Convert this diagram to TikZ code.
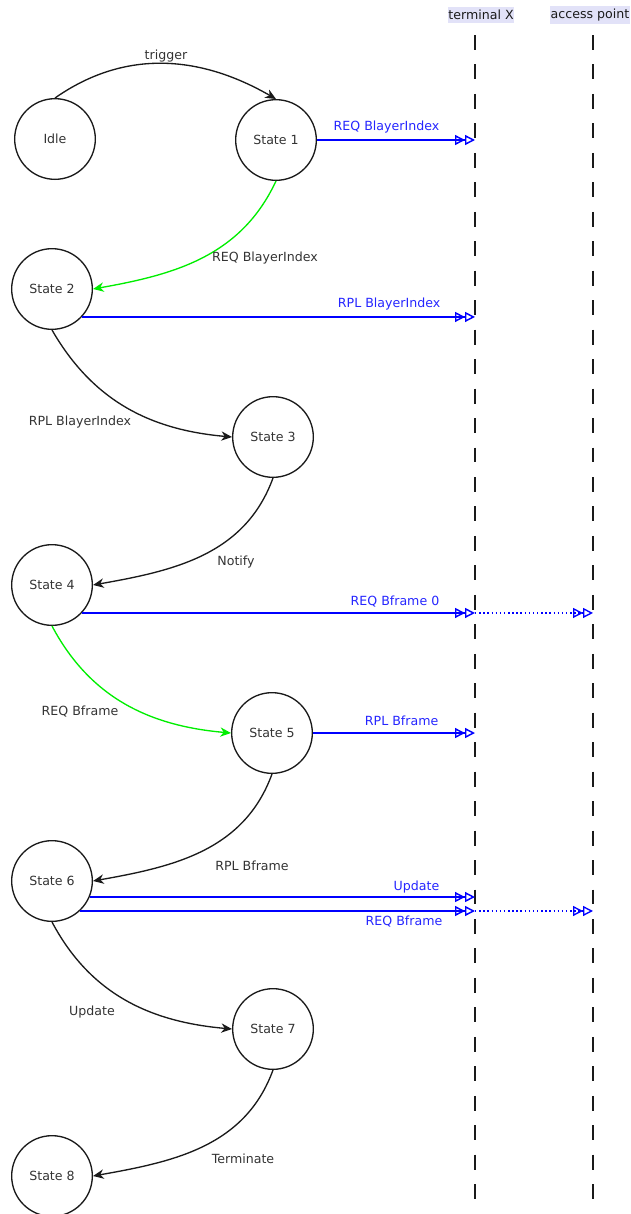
\documentclass[tikz,border=0pt]{standalone}
\usepackage{fontspec}
\setmainfont{DejaVu Sans}
\usetikzlibrary{arrows.meta}
\definecolor{ink}{HTML}{1A1A1A}
\definecolor{labgray}{HTML}{333333}
\definecolor{msgblue}{HTML}{0000FF}
\definecolor{msgtext}{HTML}{2525FF}
\definecolor{trgreen}{HTML}{00EE00}
\definecolor{headbg}{HTML}{E2E2F8}
\begin{document}
\begin{tikzpicture}[x=0.75pt,y=0.75pt,font=\fontsize{9.45}{11}\selectfont,
  state/.style={circle,draw=ink,line width=1pt,minimum size=60.5pt,inner sep=0pt,text=labgray},
  trans/.style={line width=1pt,-{Stealth[length=8pt,width=7pt,inset=2.5pt]}},
  msg/.style={msgblue,line width=1.1pt,
    -{Triangle[open,length=7.5pt,width=7.5pt]Triangle[open,length=7.5pt,width=7.5pt]}},
  fwd/.style={msg,dotted,line width=1pt},
  lifeline/.style={ink,line width=1.5pt,dash pattern=on 11.2pt off 10.9pt},
  head/.style={fill=headbg,inner xsep=0.5pt,inner ysep=2pt,text=ink},
  tlab/.style={text=labgray},
  mlab/.style={text=msgtext,anchor=east}]
  \useasboundingbox (0,0) rectangle (631,-1214);

  % lifelines
  \node[head] (txhead) at (481,-15) {terminal X};
  \node[head] (aphead) at (590,-15) {access point};
  \coordinate (txtop) at (475,-35);
  \coordinate (txbot) at (475,-1205);
  \coordinate (aptop) at (593,-35);
  \coordinate (apbot) at (593,-1205);
  \draw[lifeline] (txtop) -- (txbot);
  \draw[lifeline] (aptop) -- (apbot);

  % states
  \foreach \n/\lab/\x/\y in {
    idle/Idle/55/-139, s1/State 1/276/-140, s2/State 2/52/-289,
    s3/State 3/273/-437, s4/State 4/52/-585, s5/State 5/272/-733,
    s6/State 6/52/-881, s7/State 7/273/-1029, s8/State 8/52/-1176}
    \node[state] (\n) at (\x,\y) {\lab};

  % transitions
  \draw[trans,ink] (idle.north) to[out=35,in=150] (s1.north);
  \foreach \a/\b/\o/\i/\col in {
    s1/s2.east/-115/10/trgreen, s2/s3.west/-60/175/ink,
    s3/s4.east/-110/10/ink, s4/s5.west/-62/175/trgreen,
    s5/s6.east/-110/10/ink, s6/s7.west/-62/175/ink,
    s7/s8.east/-110/10/ink}
    \draw[trans,\col] (\a.south) to[out=\o,in=\i] (\b);
  \foreach \lab/\x/\y in {
    trigger/166/-56, REQ BlayerIndex/265/-258, RPL BlayerIndex/80/-422,
    Notify/236/-562, REQ Bframe/80/-712, RPL Bframe/252/-866,
    Update/92/-1012, Terminate/243/-1159}
    \node[tlab] at (\x,\y) {\lab};

  % messages
  \draw[msg] (s1.east) -- (s1.east -| txtop);
  \draw[msg] (s2.-43) -- (s2.-43 -| txtop);
  \draw[msg] (s4.-43) -- (s4.-43 -| txtop);
  \draw[fwd] (s4.-43 -| txtop) -- (s4.-43 -| aptop);
  \draw[msg] (s5.east) -- (s5.east -| txtop);
  \draw[msg] (s6.-23) -- (s6.-23 -| txtop);
  \draw[msg] (s6.-47) -- (s6.-47 -| txtop);
  \draw[fwd] (s6.-47 -| txtop) -- (s6.-47 -| aptop);
  \node[mlab] at (444,-127) {REQ BlayerIndex};
  \node[mlab] at (445,-304) {RPL BlayerIndex};
  \node[mlab] at (444,-602) {REQ Bframe 0};
  \node[mlab] at (443,-721) {RPL Bframe};
  \node[mlab] at (444,-887) {Update};
  \node[mlab] at (447,-922) {REQ Bframe};
\end{tikzpicture}
\end{document}
